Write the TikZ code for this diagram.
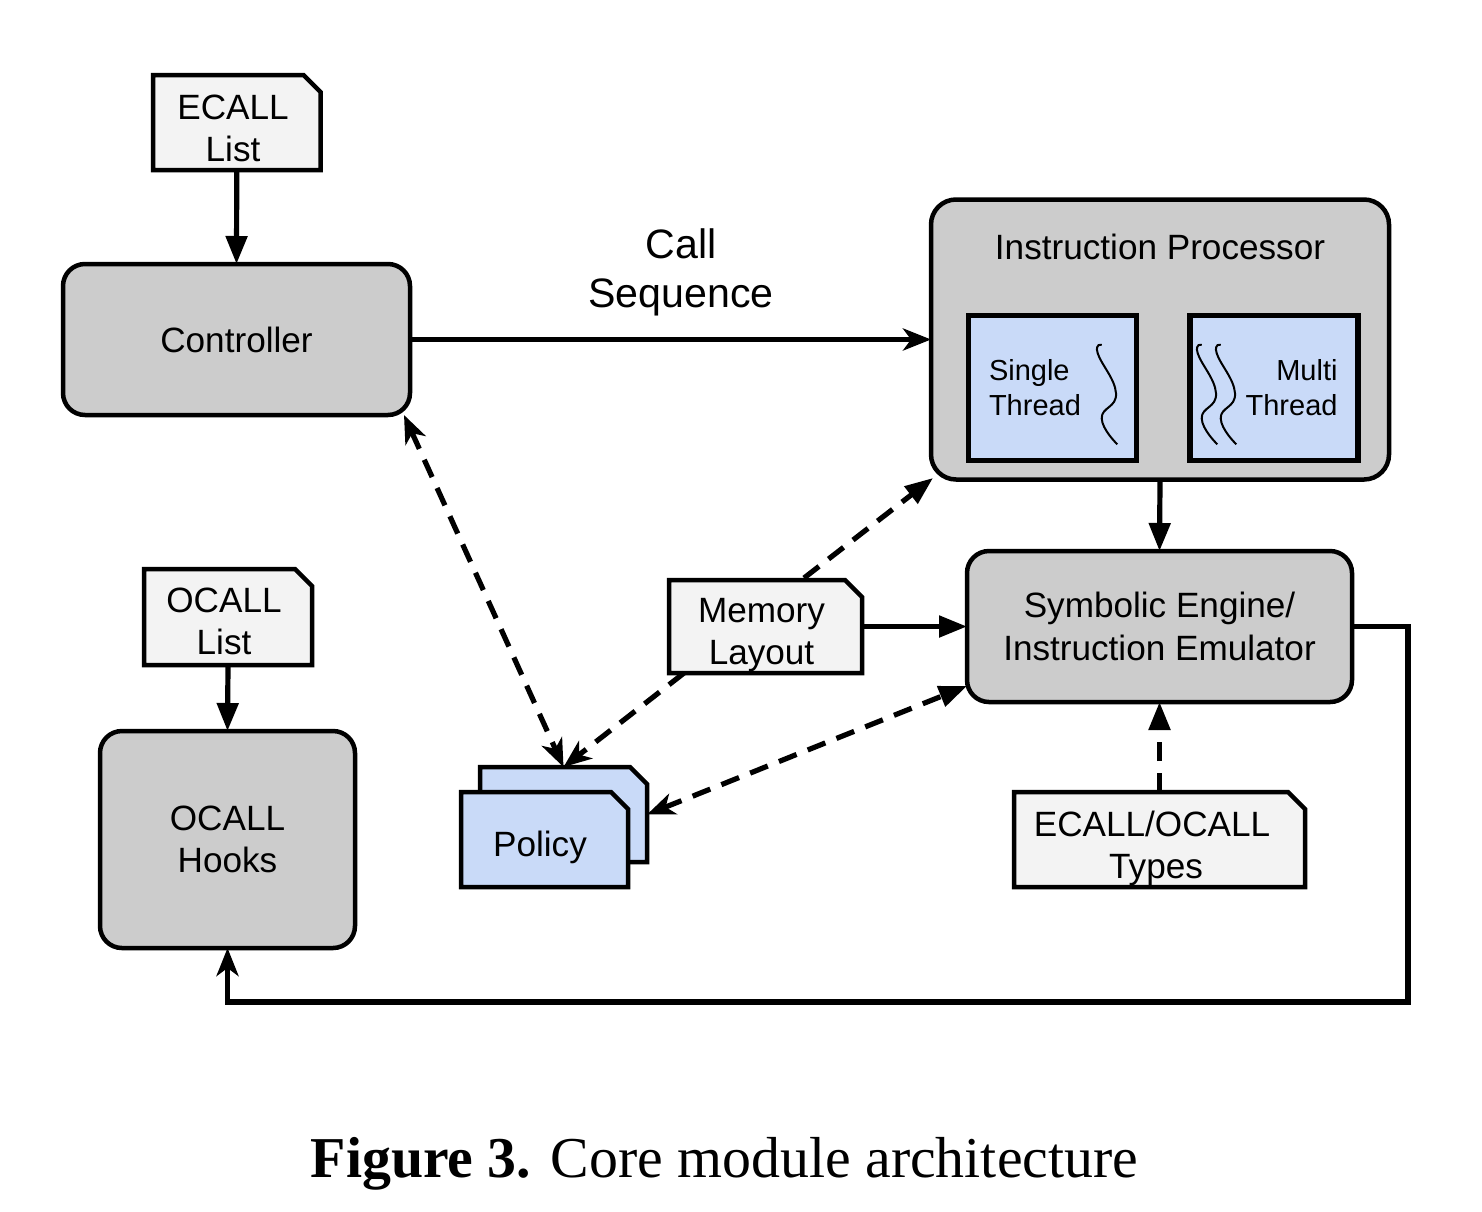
\documentclass[tikz,border=0pt]{standalone}
\usepackage{fontspec}
\setmainfont{Liberation Sans}
\newfontfamily\capfont{Liberation Serif}
\usetikzlibrary{arrows.meta,shapes.misc}
\definecolor{modgray}{HTML}{CCCCCC}
\definecolor{docgray}{HTML}{F3F3F3}
\definecolor{polblue}{HTML}{C9DAF8}
% text of a document box, moved left by half of #1 and down by #2
\newcommand{\doctext}[3]{\makebox[1cm]{\raisebox{#2}[0.3cm][0.3cm]{\begin{tabular}{@{}c@{}}#3\end{tabular}}\kern#1}}
\begin{document}
\begin{tikzpicture}[
    line width=0.045cm,
    module/.style={draw, rounded corners=0.22cm, fill=modgray, align=center, inner sep=0pt, outer sep=0pt, font=\fontsize{10}{12}\selectfont},
    docbox/.style={draw, fill=docgray, chamfered rectangle, chamfered rectangle corners=north east, chamfered rectangle sep=0.085cm, inner sep=0pt, outer sep=0pt, font=\fontsize{10}{12}\selectfont},
    threadbox/.style={draw, line width=0.052cm, fill=polblue, minimum width=1.68cm, minimum height=1.45cm, text width=1.27cm, inner sep=0pt, font=\fontsize{8.25}{10}\selectfont},
    wire/.style={line width=0.052cm},
    solid tip/.style={wire, -{Triangle[length=0.28cm,width=0.21cm]}},
    open tip/.tip={Stealth[length=0.28cm,width=0.22cm,inset=0.08cm]},
    dash line/.style={wire, dash pattern=on 0.19cm off 0.12cm}
]
    \useasboundingbox (0,0) rectangle (14.82,12.11);

    % Left column
    \node[docbox, minimum width=1.675cm, minimum height=0.95cm] (ecall) at (2.3675,10.885) {\doctext{.075cm}{-.185cm}{ECALL\\List}};
    \node[module, minimum width=3.47cm, minimum height=1.51cm] (controller) at (2.365,8.715) {Controller};
    \node[docbox, minimum width=1.68cm, minimum height=0.96cm] (ocalllist) at (2.28,5.94) {\doctext{.08cm}{-.168cm}{OCALL\\List}};
    \node[module, minimum width=2.55cm, minimum height=2.17cm] (hooks) at (2.275,3.715) {OCALL\\Hooks};

    % Instruction processor
    \node[module, rounded corners=0.25cm, minimum width=4.58cm, minimum height=2.8cm] (proc) at (11.6,8.715) {};
    \node[font=\fontsize{10}{12}\selectfont] (proctitle) at (11.6,9.64) {Instruction Processor};
    \node[threadbox, align=left] (single) at (10.525,8.23) {Single\\Thread};
    \node[threadbox, align=right] (multi) at (12.74,8.23) {Multi\\Thread};
    \foreach \dx in {0,1,1.19} {
        \draw[line width=0.02cm, xshift=\dx cm] plot[smooth, tension=0.8] coordinates {(11.017,8.66) (10.977,8.577) (11.16,8.177) (11.017,7.927) (11.173,7.667)};
    }

    % Middle and right
    \node[module, minimum width=3.85cm, minimum height=1.51cm] (engine) at (11.595,5.845) {Symbolic Engine/\\Instruction Emulator};
    \node[docbox, minimum width=1.93cm, minimum height=0.93cm] (memory) at (7.655,5.845) {\doctext{.08cm}{-.173cm}{Memory\\Layout}};
    \node[docbox, fill=polblue, minimum width=1.67cm, minimum height=0.95cm] (policyback) at (5.635,3.965) {\doctext{0cm}{0cm}{}};
    \node[docbox, fill=polblue, minimum width=1.67cm, minimum height=0.95cm] (policy) at (5.445,3.715) {\doctext{.09cm}{-.178cm}{Policy}};
    \node[docbox, minimum width=2.91cm, minimum height=0.95cm] (types) at (11.595,3.715) {\doctext{.15cm}{-.185cm}{ECALL/OCALL\\\hspace*{.08cm}Types}};
    \node[font=\fontsize{11.7}{14}\selectfont, align=center] (callseq) at (6.81,9.39) {Call\\Sequence};

    % Free ends of the lines
    \coordinate (ctrlfoot) at (4.04,7.96);
    \coordinate (procfoot) at (9.33,7.33);
    \coordinate (memtop) at (8.04,6.33);
    \coordinate (memfoot) at (6.84,5.38);
    \coordinate (engineside) at (9.67,5.25);
    \coordinate (busright) at (14.08,5.845);
    \coordinate (busleft) at (2.275,2.09);
    \coordinate (busbottom) at (14.08,2.09);

    % Connectors
    \draw[solid tip] (ecall.south) -- (controller.north);
    \draw[solid tip] (ocalllist.south) -- (hooks.north);
    \draw[wire, -open tip] (controller.east) -- (proc.west);
    \draw[solid tip] (proc.south) -- (engine.north);
    \draw[solid tip] (memory.east) -- (engine.west);
    \draw[dash line, solid tip] (types.north) -- (engine.south);
    \draw[dash line, solid tip] (memtop) -- (procfoot);
    \draw[dash line, -open tip] (memfoot) -- (policyback.north);
    \draw[dash line, open tip-open tip] (ctrlfoot) -- (policyback.north);
    \draw[dash line, {open tip}-{Triangle[length=0.28cm,width=0.21cm]}] (policyback.east) -- (engineside);
    \draw[wire, -open tip] (engine.east) -- (busright) -- (busbottom) -- (busleft) -- (hooks.south);

    % Caption
    \node[font=\capfont\fontsize{16.45}{20}\selectfont] (caption) at (7.245,0.47) {\textbf{Figure 3.} Core module architecture};
\end{tikzpicture}
\end{document}
